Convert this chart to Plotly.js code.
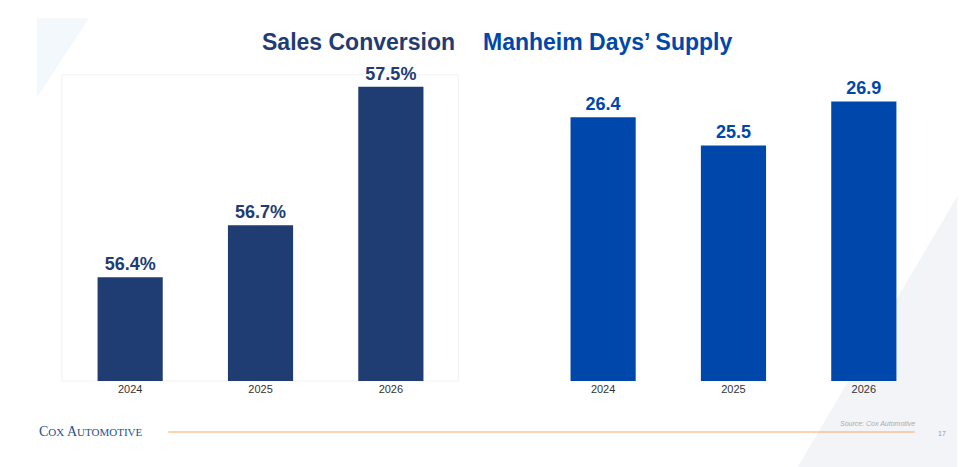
<!DOCTYPE html>
<html>
<head>
<meta charset="utf-8">
<script src="https://cdn.plot.ly/plotly-3.0.1.min.js"></script>
<style>html,body{margin:0;padding:0;background:#fff;}#chart{width:967px;height:467px;}</style>
</head>
<body>
<div id="chart"></div>
<script>
const years = ['2024', '2025', '2026'];
const salesConversion = [56.4, 56.7, 57.5];
const daysSupply = [26.4, 25.5, 26.9];

const leftTrace = {
    x: years,
    y: salesConversion,
    type: 'bar',
    width: 0.5,
    marker: {color: '#1f3d73'},
    text: salesConversion.map(v => v.toFixed(1) + '%'),
    textposition: 'outside',
    cliponaxis: false,
    textfont: {size: 18, color: '#1f3d73', family: 'Liberation Sans, Arial', weight: 'bold'},
    hoverinfo: 'none',
    xaxis: 'x', yaxis: 'y'
};

const rightTrace = {
    x: years,
    y: daysSupply,
    type: 'bar',
    width: 0.5,
    marker: {color: '#0047ab'},
    text: daysSupply.map(v => v.toFixed(1)),
    textposition: 'outside',
    cliponaxis: false,
    textfont: {size: 18, color: '#0047ab', family: 'Liberation Sans, Arial', weight: 'bold'},
    hoverinfo: 'none',
    xaxis: 'x2', yaxis: 'y2'
};

const tick = {size: 11, color: '#333', family: 'Liberation Sans, Arial'};

const layout = {
    width: 967,
    height: 467,
    margin: {l: 0, r: 0, t: 0, b: 0},
    paper_bgcolor: '#fff',
    plot_bgcolor: 'rgba(0,0,0,0)',
    showlegend: false,
    bargap: 0.5,
    xaxis: {domain: [0.0672, 0.4716], tickfont: tick, showline: false, ticks: '', fixedrange: true},
    yaxis: {domain: [0.1842, 0.8715], range: [55.8, 57.655], visible: false},
    xaxis2: {domain: [0.5563, 0.9607], anchor: 'y2', tickfont: tick, ticks: '', fixedrange: true},
    yaxis2: {domain: [0.1842, 0.8715], range: [18, 28.22], anchor: 'x2', visible: false},
    shapes: [
        // background decorations
        {type: 'path', xref: 'paper', yref: 'paper', path: 'M 0.038 0.961 L 0.092 0.961 L 0.038 0.79 Z',
         fillcolor: '#f3f8fc', line: {width: 0}, layer: 'below'},
        {type: 'path', xref: 'paper', yref: 'paper', path: 'M 0.825 0 L 0.99 0 L 0.99 0.58 Z',
         fillcolor: '#f3f4f8', line: {width: 0}, layer: 'below'},
        {type: 'rect', xref: 'paper', yref: 'paper', x0: 0.064, x1: 0.474, y0: 0.1842, y1: 0.84,
         fillcolor: 'rgba(0,0,0,0)', line: {color: '#f2f2f2', width: 1}, layer: 'below'},
        // footer line
        {type: 'line', xref: 'paper', yref: 'paper', x0: 0.174, x1: 0.946, y0: 0.075, y1: 0.075,
         line: {color: '#f7a75c', width: 1.2}}
    ],
    annotations: [
        {text: 'Sales Conversion', xref: 'paper', yref: 'paper', x: 0.269, y: 0.91, yanchor: 'middle',
         showarrow: false, font: {size: 23, color: '#1f3d73', family: 'Liberation Sans, Arial', weight: 'bold'}},
        {text: 'Manheim Days’ Supply', xref: 'paper', yref: 'paper', x: 0.759, y: 0.91, yanchor: 'middle',
         showarrow: false, font: {size: 23, color: '#0047ab', family: 'Liberation Sans, Arial', weight: 'bold'}},
        {text: 'C<span style="font-size:11px">OX</span> A<span style="font-size:11px">UTOMOTIVE</span>',
         xref: 'paper', yref: 'paper', x: 0.038, y: 0.075, xanchor: 'left', yanchor: 'middle',
         showarrow: false, font: {size: 14, color: '#1f4f8f', family: 'Liberation Serif, Times New Roman'}},
        {text: '<i>Source: Cox Automotive</i>', xref: 'paper', yref: 'paper', x: 0.948, y: 0.094,
         xanchor: 'right', yanchor: 'middle', showarrow: false,
         font: {size: 7, color: '#aaa', family: 'Liberation Sans, Arial'}},
        {text: '17', xref: 'paper', yref: 'paper', x: 0.968, y: 0.072, xanchor: 'left', yanchor: 'middle',
         showarrow: false, font: {size: 7, color: '#999', family: 'Liberation Sans, Arial'}}
    ]
};

Plotly.newPlot('chart', [leftTrace, rightTrace], layout, {displayModeBar: false, staticPlot: true});
</script>
</body>
</html>
